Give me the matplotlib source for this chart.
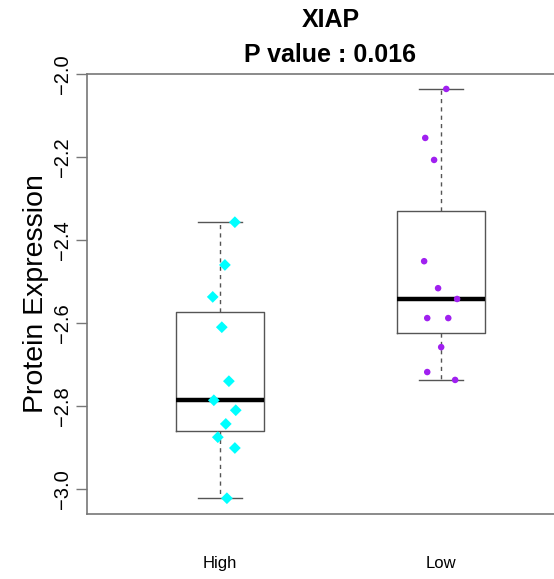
import matplotlib
matplotlib.use("Agg")
import matplotlib.pyplot as plt
import numpy as np

plt.rcParams['font.family'] = ['Liberation Sans', 'DejaVu Sans']

groups = ['High', 'Low']
high_vals = [-2.357, -2.460, -2.537, -2.610, -2.740, -2.786, -2.810, -2.843, -2.875, -2.901, -3.022]
high_jit = [0.068, 0.023, -0.032, 0.009, 0.041, -0.027, 0.072, 0.027, -0.009, 0.068, 0.032]
low_vals = [-2.036, -2.154, -2.207, -2.451, -2.516, -2.542, -2.588, -2.588, -2.658, -2.718, -2.737]
low_jit = [0.023, -0.072, -0.032, -0.077, -0.014, 0.072, -0.063, 0.032, 0.0, -0.063, 0.063]
yticks = [-3.0, -2.8, -2.6, -2.4, -2.2, -2.0]


def fivenum(v):
    # Tukey five-number summary, as R's boxplot does
    v = np.sort(np.asarray(v))
    n = len(v)
    n4 = np.floor((n + 3) / 2) / 2
    d = np.array([1, n4, (n + 1) / 2, n + 1 - n4, n]) - 1
    return 0.5 * (v[np.floor(d).astype(int)] + v[np.ceil(d).astype(int)])


stats = []
for name, vals in zip(groups, [high_vals, low_vals]):
    lo, q1, med, q3, hi = fivenum(vals)
    stats.append(dict(label=name, whislo=lo, q1=q1, med=med, q3=q3, whishi=hi, fliers=[]))

fig = plt.figure(figsize=(5.54, 5.79), dpi=100)
ax = fig.add_axes([87 / 554, 1 - 514 / 579, (574 - 87) / 554, 440 / 579])

box_col = '#555555'
ax.bxp(stats, positions=[1, 2], widths=0.4, showfliers=False,
       boxprops=dict(color=box_col, lw=1.0),
       whiskerprops=dict(color=box_col, lw=1.0, ls=(0, (3, 3))),
       capprops=dict(color=box_col, lw=1.0), capwidths=0.2,
       medianprops=dict(color='black', lw=3.2))

ax.scatter(1 + np.array(high_jit), high_vals, marker='D', s=36, color='#00FFFF',
           edgecolors='none', zorder=5)
ax.scatter(2 + np.array(low_jit), low_vals, marker='o', s=22, color='#A020F0',
           edgecolors='none', zorder=5)

ax.set_xlim(0.4, 2.6)
ax.set_ylim(-3.06, -2.0)
ax.set_yticks(yticks)
ax.set_yticklabels([f'{t:.1f}'.replace('-', '\u2212') for t in yticks],
                   rotation=90, va='center', fontsize=14.5)
ax.tick_params(axis='y', length=8, width=1, color='#777777', pad=3)
ax.set_xticks([1, 2])
ax.set_xticklabels(groups, fontsize=12)
ax.tick_params(axis='x', length=0, pad=30)
for s in ax.spines.values():
    s.set_color('#777777')
    s.set_linewidth(1.2)

ax.set_ylabel('Protein Expression', fontsize=20.5, labelpad=3)
ax.set_title('XIAP\nP value : 0.016', fontsize=18, fontweight='bold', pad=9,
             linespacing=1.55)

fig.savefig('out.png', dpi=100)
